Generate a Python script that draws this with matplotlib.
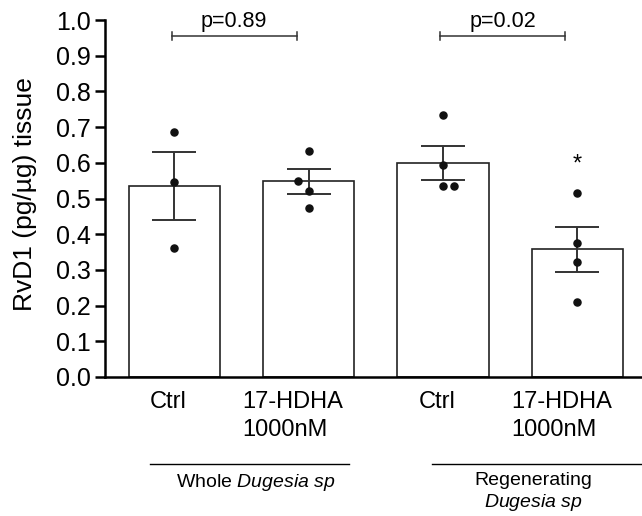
import matplotlib as mpl
import matplotlib.pyplot as plt
import numpy as np

mpl.use("Agg")
plt.rcParams["font.family"] = ["Liberation Sans", "DejaVu Sans"]
plt.rcParams["mathtext.fontset"] = "custom"
plt.rcParams["mathtext.rm"] = "Liberation Sans"
plt.rcParams["mathtext.it"] = "Liberation Sans:italic"

labels = ["Ctrl", "17-HDHA\n1000nM", "Ctrl", "17-HDHA\n1000nM"]
means = [0.535, 0.548, 0.600, 0.358]
sems = [0.094, 0.034, 0.047, 0.063]
points = [
    [0.686, 0.545, 0.362],
    [0.634, 0.550, 0.520, 0.473],
    [0.735, 0.595, 0.535, 0.535],
    [0.515, 0.375, 0.322, 0.210],
]
# horizontal nudge of overlapping dots, as in the original scatter
jitter = [
    [0, 0, 0],
    [0, -0.08, 0, 0],
    [0, 0, 0, 0.08],
    [0, 0, 0, 0],
]
pvals = ["p=0.89", "p=0.02"]
groups = ["Whole $\\it{Dugesia\\ sp}$", "Regenerating\n$\\it{Dugesia\\ sp}$"]

fig = plt.figure(figsize=(6.42, 5.16), dpi=100)
ax = fig.add_axes([105 / 642, 139 / 516, 1 - 105 / 642, 357 / 516])

x = np.arange(len(means))
ax.bar(x, means, width=0.68, color="white", edgecolor="#222222", linewidth=1.2, zorder=1)
ax.errorbar(x, means, yerr=sems, fmt="none", ecolor="#333333", elinewidth=1.4,
            capsize=16, capthick=1.4, zorder=2)
for i, pts in enumerate(points):
    ax.scatter(x[i] + np.array(jitter[i]), pts, s=26, color="#111111", zorder=3)

ax.text(x[3], 0.595, "*", ha="center", va="center", fontsize=17)

# significance brackets
for k, p in enumerate(pvals):
    x0, x1 = x[2 * k] - 0.02, x[2 * k] + 0.91
    y = 0.955
    ax.plot([x0, x1], [y, y], color="#333333", lw=1.1, clip_on=False)
    ax.plot([x0, x0], [y - 0.012, y + 0.012], color="#333333", lw=1.1, clip_on=False)
    ax.plot([x1, x1], [y - 0.012, y + 0.012], color="#333333", lw=1.1, clip_on=False)
    ax.text((x0 + x1) / 2, 0.981, p, ha="center", va="baseline", fontsize=15.5)

ax.set_xlim(-0.517, 3.481)
ax.set_ylim(0, 1.0)
yt = np.arange(0, 1.01, 0.1)
ax.set_yticks(yt)
ax.set_yticklabels([f"{v:.1f}" for v in yt], fontsize=18)
ax.set_xticks([])
ax.tick_params(axis="y", length=7, width=1.8, direction="out", pad=3)
for s in ["top", "right"]:
    ax.spines[s].set_visible(False)
ax.spines["left"].set_linewidth(1.8)
ax.spines["bottom"].set_linewidth(1.8)

fig.text(25 / 642, 1 - 194 / 516, "RvD1 (pg/µg) tissue", rotation=90,
         ha="center", va="center", fontsize=19)

trans = ax.get_xaxis_transform()
# category labels: "Ctrl" centred, two-line labels left-aligned
for xi, lab in zip(x, labels):
    if "\n" in lab:
        ax.text(xi - 0.495, -0.04, lab, ha="left", va="top", fontsize=17,
                linespacing=1.33, transform=trans)
    else:
        ax.text(xi - 0.045, -0.04, lab, ha="center", va="top", fontsize=17,
                transform=trans)

# group lines and labels under the axis
for (x0, x1), g, gx in zip([(-0.18, 1.30), (1.92, 3.6)], groups, [0.607, 2.67]):
    ax.plot([x0, x1], [-0.245, -0.245], color="black", lw=1.0, transform=trans, clip_on=False)
    ax.text(gx, -0.265, g, ha="center", va="top", fontsize=14, transform=trans, linespacing=1.2)

fig.savefig("out.png", dpi=100)
plt.close(fig)
